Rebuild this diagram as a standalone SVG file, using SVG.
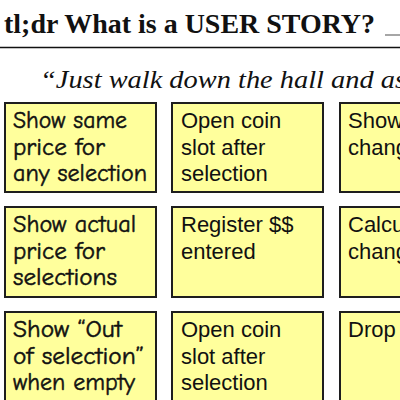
<svg xmlns="http://www.w3.org/2000/svg" width="400" height="400" viewBox="0 0 400 400">
<style>
.note{fill:#ffff9c;stroke:#1e1e1e;stroke-width:2}
.comic{font-family:"Comic Neue","Comic Sans MS","DejaVu Sans",sans-serif;font-size:24px;fill:#111;stroke:#111;stroke-width:0.5}
.arial{font-family:"Liberation Sans",Arial,sans-serif;font-size:22px;fill:#111}
</style>
<rect width="400" height="400" fill="#ffffff"/>
<text x="4" y="33" font-family="'Liberation Serif','DejaVu Serif',serif" font-weight="bold" font-size="27" fill="#111" textLength="371" lengthAdjust="spacingAndGlyphs">tl;dr What is a USER STORY?</text>
<line x1="385" y1="35" x2="400" y2="35" stroke="#888" stroke-width="1.5"/>
<line x1="0" y1="47.5" x2="400" y2="47.5" stroke="#111" stroke-width="1.5"/>
<text x="40" y="88" font-family="'Liberation Serif','DejaVu Serif',serif" font-style="italic" font-size="26" fill="#111" textLength="366" lengthAdjust="spacingAndGlyphs">“Just walk down the hall and as</text>
<g id="n1"><rect class="note" x="5" y="103" width="151" height="89"/><text class="comic" x="13" y="128" textLength="114" lengthAdjust="spacingAndGlyphs">Show same</text><text class="comic" x="13" y="154.5" textLength="92" lengthAdjust="spacingAndGlyphs">price for</text><text class="comic" x="13" y="181" textLength="134" lengthAdjust="spacingAndGlyphs">any selection</text></g>
<g id="n2"><rect class="note" x="172" y="103" width="151" height="89"/><text class="arial" x="181" y="128">Open coin</text><text class="arial" x="181" y="154.5">slot after</text><text class="arial" x="181" y="181">selection</text></g>
<g id="n3"><rect class="note" x="340" y="103" width="70" height="89"/><text class="arial" x="348" y="128">Show</text><text class="arial" x="348" y="154.5">chang</text></g>
<g id="n4"><rect class="note" x="5" y="207" width="151" height="90"/><text class="comic" x="13" y="232" textLength="123" lengthAdjust="spacingAndGlyphs">Show actual</text><text class="comic" x="13" y="258.5" textLength="92" lengthAdjust="spacingAndGlyphs">price for</text><text class="comic" x="13" y="285" textLength="104" lengthAdjust="spacingAndGlyphs">selections</text></g>
<g id="n5"><rect class="note" x="172" y="207" width="151" height="90"/><text class="arial" x="181" y="232">Register $$</text><text class="arial" x="181" y="258.5">entered</text></g>
<g id="n6"><rect class="note" x="340" y="207" width="70" height="90"/><text class="arial" x="348" y="232">Calcu</text><text class="arial" x="348" y="258.5">chang</text></g>
<g id="n7"><rect class="note" x="5" y="312" width="151" height="100"/><text class="comic" x="13" y="337" textLength="109" lengthAdjust="spacingAndGlyphs">Show “Out</text><text class="comic" x="13" y="363.5" textLength="131" lengthAdjust="spacingAndGlyphs">of selection”</text><text class="comic" x="13" y="390" textLength="122" lengthAdjust="spacingAndGlyphs">when empty</text></g>
<g id="n8"><rect class="note" x="172" y="312" width="151" height="100"/><text class="arial" x="181" y="337">Open coin</text><text class="arial" x="181" y="363.5">slot after</text><text class="arial" x="181" y="390">selection</text></g>
<g id="n9"><rect class="note" x="340" y="312" width="70" height="100"/><text class="arial" x="348" y="337">Drop</text></g>
<g id="connectors"/>
</svg>
